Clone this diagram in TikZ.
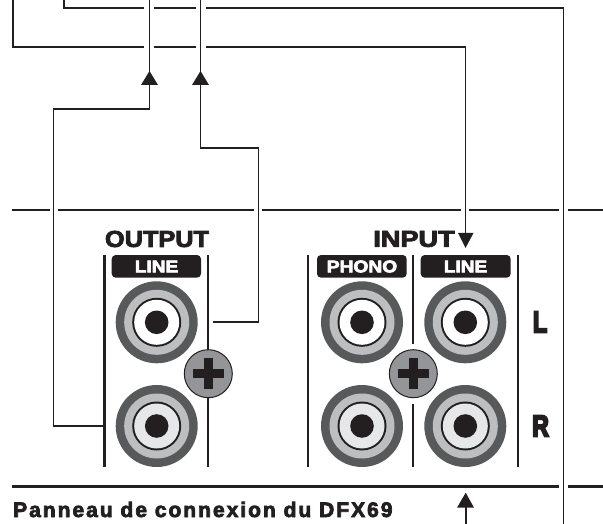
\documentclass[tikz,border=0pt]{standalone}
\usepackage{fontspec}
\setmainfont{Liberation Sans}
\newfontfamily\heavyfont{Liberation Sans Bold}[FakeBold=3.5]
\newfontfamily\blackfont{Liberation Sans Bold}[FakeBold=7]
\newfontfamily\spacedfont{Liberation Sans Bold}[LetterSpace=9.5,FakeBold=3.5]
\definecolor{ink}{HTML}{231F20}
\definecolor{rdark}{HTML}{58595B}
\definecolor{rmid}{HTML}{BCBEC0}
\definecolor{rlight}{HTML}{E6E7E8}
\definecolor{screwc}{HTML}{939598}
\newcommand{\jack}[3]{%
  \fill[rdark] (#1,#2) circle (41);
  \fill[rmid] (#1,#2) circle (32.5);
  \fill[ink] (#1,#2) circle (24.5);
  \fill[#3] (#1,#2) circle (22.5);
  \fill[ink] (#1,#2) circle (11.8);
}
\newcommand{\screw}[2]{%
  \draw[ink,fill=screwc,line width=1pt] (#1,#2) circle (24);
  \fill[ink] (#1-15.5,#2-4.5) rectangle (#1+15.5,#2+4.5);
  \fill[ink] (#1-4.5,#2-15.5) rectangle (#1+4.5,#2+15.5);
}
\begin{document}
\begin{tikzpicture}[x=1pt,y=-1pt,
  wire/.style={ink,line width=1.9pt},
  bar/.style={ink,line width=2.2pt},
  tip/.style={fill=ink,draw=none},
  lab/.style={font=\heavyfont\fontsize{23}{23}\selectfont,text=ink,inner sep=0pt},
  sidelab/.style={font=\blackfont\fontsize{30}{30}\selectfont,text=ink,inner sep=0pt,xscale=0.78},
  tag/.style={font=\heavyfont\fontsize{17}{17}\selectfont,text=white,inner sep=0pt},
  captext/.style={font=\spacedfont\fontsize{21}{21}\selectfont,text=ink,inner sep=0pt,anchor=base west}]
\useasboundingbox (0,0) rectangle (603,524);
% panel rules
\draw[bar] (12,210) -- (50,210) (58,210) -- (254,210) (262,210) -- (461,210) (469,210) -- (559,210) (568,210) -- (603,210);
\draw[bar] (12,486.5) -- (559,486.5) (568,486.5) -- (603,486.5);
% wires
\coordinate (a0) at (64,0); \coordinate (a1) at (64,8); \coordinate (a2) at (144,8);
\coordinate (a3) at (154,8); \coordinate (a4) at (196,8); \coordinate (a5) at (206,8);
\coordinate (a6) at (563.5,8); \coordinate (a7) at (563.5,524);
\draw[wire] (a0) -- (a1) -- (a2) (a3) -- (a4) (a5) -- (a6) -- (a7);
\coordinate (b0) at (13,0); \coordinate (b1) at (13,47); \coordinate (b2) at (144,47);
\coordinate (b3) at (154,47); \coordinate (b4) at (196,47); \coordinate (b5) at (206,47);
\coordinate (b6) at (465.5,47); \coordinate (b7) at (465.5,235);
\draw[wire] (b0) -- (b1) -- (b2) (b3) -- (b4) (b5) -- (b6) -- (b7);
\fill[tip] (458,233) -- (473.5,233) -- (465.5,248) -- cycle;
\coordinate (c0) at (149.5,0); \coordinate (c1) at (149.5,109); \coordinate (c2) at (53.5,109);
\coordinate (c3) at (53.5,426); \coordinate (c4) at (103,426);
\draw[wire] (c0) -- (c1) -- (c2) -- (c3) -- (c4);
\fill[tip] (141,85) -- (158,85) -- (149.5,71) -- cycle;
\coordinate (d0) at (200.5,0); \coordinate (d1) at (200.5,148); \coordinate (d2) at (258.5,148);
\coordinate (d3) at (258.5,322); \coordinate (d4) at (213,322);
\draw[wire] (d0) -- (d1) -- (d2) -- (d3) -- (d4);
\fill[tip] (192,85) -- (209,85) -- (200.5,71) -- cycle;
\coordinate (e0) at (465.7,524); \coordinate (e1) at (465.7,505);
\draw[wire] (e0) -- (e1);
\fill[tip] (457,507.7) -- (474,507.7) -- (465.7,492.7) -- cycle;
% dividers
\draw[bar] (104.5,255) -- (104.5,467) (208.3,255) -- (208.3,467);
\draw[bar] (308.3,255) -- (308.3,467) (413.3,255) -- (413.3,344) (413.3,404) -- (413.3,467) (518.3,255) -- (518.3,467);
% jacks
\jack{156.7}{322.3}{white}
\jack{156.7}{426}{rlight}
\jack{362}{322.3}{white}
\jack{362}{426}{rlight}
\jack{465.3}{322.3}{white}
\jack{465.3}{426}{rlight}
\screw{208.3}{373.7}
\screw{413.3}{373.7}
% tags
\fill[ink,rounded corners=4pt] (111.7,255) rectangle (201,277.7);
\fill[ink,rounded corners=4pt] (317,255) rectangle (406.7,277.7);
\fill[ink,rounded corners=4pt] (420.7,255) rectangle (510.7,277.7);
\node[tag,xscale=1.12] (tl) at (156.5,266.5) {LINE};
\node[tag,xscale=1.13] (tp) at (362,266.5) {PHONO};
\node[tag,xscale=1.12] (tn) at (465.5,266.5) {LINE};
\node[lab,xscale=1.1] (out) at (157,239) {OUTPUT};
\node[lab,xscale=1.18] (inp) at (414,239) {INPUT};
\node[sidelab] (l) at (540,322) {L};
\node[sidelab] (r) at (540.5,426) {R};
\node[captext] (capt) at (13,517) {Panneau de connexion du DFX69};
\end{tikzpicture}
\end{document}
